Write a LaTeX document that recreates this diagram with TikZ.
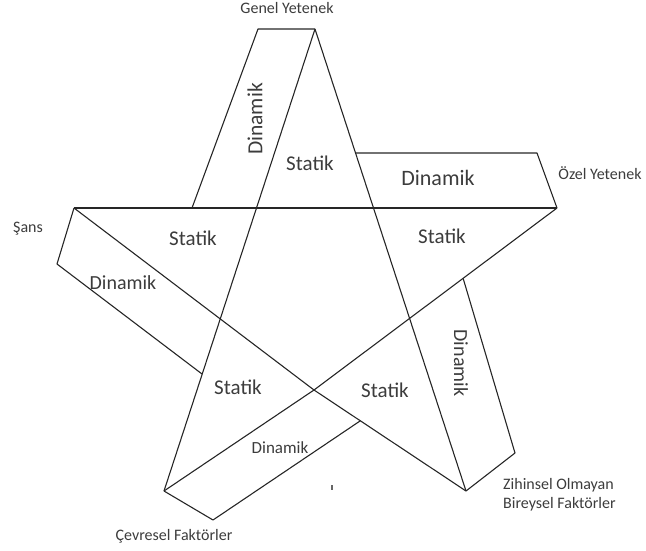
\documentclass[tikz,border=0pt]{standalone}
\usepackage{fontspec}
\setmainfont{Carlito}
\usetikzlibrary{calc}
\definecolor{ink}{HTML}{3C3C3C}
\begin{document}
\begin{tikzpicture}[x=1pt,y=-1pt,
  edge/.style={draw=black!85,line width=1.1pt,line join=round},
  big/.style={font=\fontsize{21}{24}\selectfont,text=ink,inner sep=0pt},
  lab/.style={font=\fontsize{16}{19}\selectfont,text=ink,inner sep=0pt}]
\useasboundingbox (0,0) rectangle (646,550);
% star points
\coordinate (T) at (315,29);
\coordinate (R) at (557,208);
\coordinate (BR) at (466,491);
\coordinate (BL) at (164,491);
\coordinate (L) at (74,208);
\coordinate (X) at (314,390);
% star
\draw[edge] (T) -- (BL);
\draw[edge] (T) -- (BR);
\draw[edge] (L) -- (R);
\draw[edge] (L) -- (X) -- (BR);
\draw[edge] (R) -- (X) -- (BL);
% top band
\coordinate (t1) at (258,29);
\coordinate (t2) at (192,208);
\draw[edge] (T) -- (t1) -- (t2);
% right band
\coordinate (h1) at (0,153);
\coordinate (h2) at (646,153);
\coordinate (r1) at (intersection of T--BR and h1--h2);
\coordinate (r2) at (537,153);
\draw[edge] (r1) -- (r2) -- (R);
% left band
\coordinate (s1) at (57,264);
\coordinate (s1b) at ($(s1)+(X)-(L)$);
\coordinate (s2) at (intersection of s1--s1b and T--BL);
\draw[edge] (L) -- (s1) -- (s2);
% bottom-right band
\coordinate (z2) at (515,453);
\coordinate (z0) at (463,278);
\coordinate (z1) at (intersection of z2--z0 and R--X);
\draw[edge] (z1) -- (z2) -- (BR);
% bottom-left band
\coordinate (c2) at (213,520);
\coordinate (c2b) at ($(c2)+(X)-(BL)$);
\coordinate (c3) at (intersection of c2--c2b and X--BR);
\draw[edge] (BL) -- (c2) -- (c3);
% small tick
\coordinate (k1) at (332,485);
\coordinate (k2) at (332,490);
\draw[draw=black!60,line width=1.4pt] (k1) -- (k2);
% labels
\node[lab] (genel) at (287,8) {Genel Yetenek};
\node[lab] (ozel) at (600,173) {Özel Yetenek};
\node[lab] (sans) at (28,229) {Şans};
\node[lab,anchor=west,align=left] (zih) at (503,495) {Zihinsel Olmayan\\Bireysel Faktörler};
\node[lab] (cev) at (174,536) {Çevresel Faktörler};
\node[big] (st1) at (310,163) {Statik};
\node[big] (st2) at (442,236) {Statik};
\node[big] (st3) at (193,238) {Statik};
\node[big] (st4) at (238,387) {Statik};
\node[big] (st5) at (385,390) {Statik};
\node[big,font=\fontsize{21.5}{24}\selectfont,rotate=90] (d1) at (255,119) {Dinamik};
\node[big,font=\fontsize{22}{24}\selectfont] (d2) at (438,178) {Dinamik};
\node[big,font=\fontsize{20}{24}\selectfont] (d3) at (123,283) {Dinamik};
\node[big,font=\fontsize{20}{24}\selectfont,rotate=-90] (d4) at (461,363) {Dinamik};
\node[big,font=\fontsize{17}{20}\selectfont] (d5) at (280,448) {Dinamik};
\end{tikzpicture}
\end{document}
